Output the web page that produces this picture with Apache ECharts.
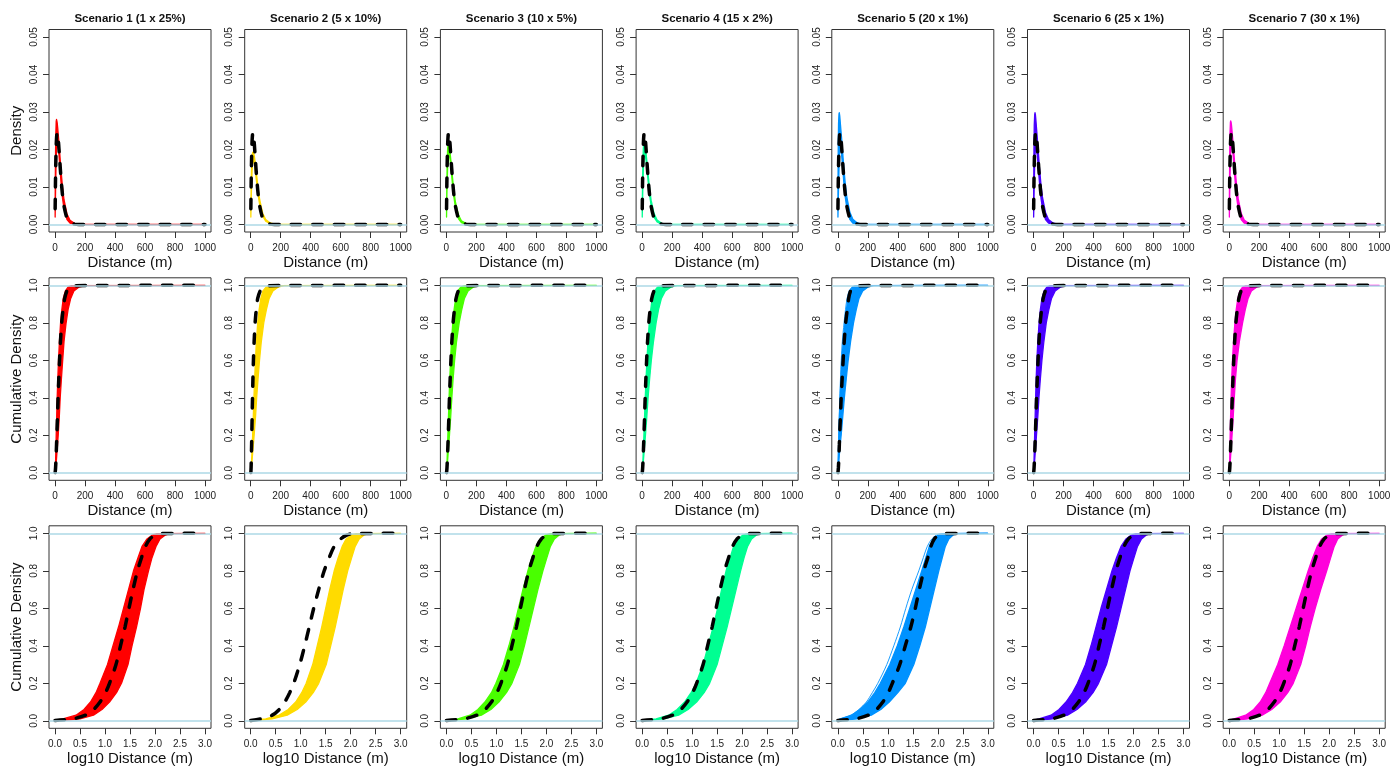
<!DOCTYPE html>
<html><head><meta charset="utf-8">
<script src="https://cdn.jsdelivr.net/npm/echarts@6/dist/echarts.min.js"></script>
<style>html,body{margin:0;padding:0;background:#fff}#c{width:1390px;height:766px}</style>
</head><body><div id="c"></div>
<script>
// ---------------- DATA ----------------
const scenarioTitles = ['Scenario 1 (1 x 25%)','Scenario 2 (5 x 10%)','Scenario 3 (10 x 5%)','Scenario 4 (15 x 2%)','Scenario 5 (20 x 1%)','Scenario 6 (25 x 1%)','Scenario 7 (30 x 1%)'];
const scenarioColors = ['#FF0000','#FFDB00','#49FF00','#00FF92','#0092FF','#4900FF','#FF00DB'];

const distTicks = [0,200,400,600,800,1000];
const logTicks = [0,0.5,1,1.5,2,2.5,3];
const densTicks = [0,0.01,0.02,0.03,0.04,0.05];
const cdfTicks = [0,0.2,0.4,0.6,0.8,1];

// Row 1: density vs distance (m)
const densX      = [1, 3, 5, 8, 10, 13, 15, 18, 20, 25, 30, 40, 50, 60, 80, 100, 130, 160, 200, 1000];
const densBlack  = [0.0042,0.0109,0.0159,0.0209,0.0228,0.0243,0.0245,0.0241,0.0234,0.0210,0.0180,0.0124,0.0079,0.0049,0.0017,0.0006,0.0001,0,0,0];
const densUpS1 = [0.006,0.017,0.0235,0.0275,0.028,0.0275,0.027,0.0258,0.0248,0.0225,0.0198,0.0145,0.0100,0.0066,0.0028,0.0011,0.0003,0.0001,0,0];
const densLoS1 = [0.002,0.007,0.012,0.018,0.020,0.0215,0.022,0.022,0.0215,0.0195,0.0167,0.0113,0.0070,0.0042,0.0013,0.0004,0.0001,0,0,0];
const densUpS2 = [0.004,0.010,0.014,0.017,0.0185,0.0192,0.0193,0.0192,0.0190,0.0180,0.0165,0.0130,0.0095,0.0066,0.0030,0.0013,0.0004,0.0001,0,0];
const densLoS2 = [0.002,0.006,0.009,0.013,0.015,0.0165,0.017,0.0172,0.0170,0.0160,0.0145,0.0110,0.0077,0.0052,0.0022,0.0009,0.0002,0,0,0];
const densUpS3 = [0.004,0.011,0.016,0.020,0.0210,0.0215,0.0215,0.0210,0.0205,0.0190,0.0170,0.0128,0.0090,0.0060,0.0026,0.0010,0.0003,0.0001,0,0];
const densLoS3 = [0.002,0.007,0.011,0.015,0.017,0.0185,0.019,0.019,0.0185,0.0172,0.0152,0.0110,0.0073,0.0046,0.0016,0.0005,0.0001,0,0,0];
const densUpS4 = [0.004,0.011,0.016,0.020,0.0213,0.0218,0.0218,0.0213,0.0208,0.0195,0.0176,0.0134,0.0096,0.0065,0.0029,0.0012,0.0003,0.0001,0,0];
const densLoS4 = [0.002,0.006,0.010,0.014,0.016,0.0178,0.0185,0.0188,0.0185,0.0175,0.0157,0.0116,0.0079,0.0051,0.0019,0.0007,0.0001,0,0,0];
const densUpS5 = [0.008,0.021,0.027,0.0295,0.0298,0.029,0.028,0.0265,0.0255,0.0232,0.0205,0.0152,0.0108,0.0074,0.0033,0.0014,0.0004,0.0001,0,0];
const densLoS5 = [0.002,0.006,0.010,0.015,0.018,0.0198,0.0203,0.0205,0.0202,0.0188,0.0165,0.0113,0.0072,0.0044,0.0014,0.0004,0.0001,0,0,0];
const densUpS6 = [0.008,0.020,0.0265,0.0293,0.0298,0.0292,0.0283,0.0268,0.0257,0.0232,0.0205,0.0150,0.0106,0.0072,0.0032,0.0013,0.0004,0.0001,0,0];
const densLoS6 = [0.002,0.006,0.011,0.016,0.0185,0.020,0.0205,0.0205,0.020,0.0185,0.0162,0.0110,0.0070,0.0042,0.0013,0.0004,0.0001,0,0,0];
const densUpS7 = [0.006,0.017,0.024,0.0272,0.0276,0.0272,0.0266,0.0253,0.0244,0.0222,0.0197,0.0145,0.0102,0.0069,0.0030,0.0012,0.0003,0.0001,0,0];
const densLoS7 = [0.002,0.007,0.012,0.017,0.0195,0.021,0.0213,0.0212,0.0207,0.0190,0.0165,0.0113,0.0071,0.0043,0.0013,0.0004,0.0001,0,0,0];

// Rows 2-3: cumulative density levels and the log10 distance (m) at which each curve reaches them
const cdfP = [0.002,0.01,0.03,0.06,0.1,0.15,0.2,0.3,0.4,0.5,0.6,0.7,0.8,0.87,0.93,0.97,0.99,0.998];
const logBlackBase = [0.00,0.35,0.61,0.77,0.90,1.01,1.09,1.22,1.31,1.40,1.48,1.56,1.65,1.73,1.81,1.90,2.00,2.10];
const logBlackS2   = [0.00,0.20,0.43,0.57,0.68,0.78,0.86,0.98,1.08,1.17,1.26,1.36,1.47,1.57,1.67,1.80,1.92,2.04];
const logBlackS5   = [0.00,0.35,0.61,0.77,0.90,1.01,1.09,1.24,1.35,1.46,1.55,1.63,1.72,1.80,1.86,1.93,2.02,2.12];
const logLeftS1  = [0.00,0.16,0.42,0.58,0.71,0.82,0.90,1.05,1.16,1.27,1.37,1.47,1.57,1.66,1.74,1.84,1.94,2.04];
const logRightS1 = [0.15,0.50,0.77,0.94,1.09,1.23,1.33,1.46,1.54,1.63,1.71,1.78,1.87,1.94,2.02,2.10,2.20,2.30];
const logLeftS2  = [0.00,0.30,0.57,0.75,0.90,1.02,1.11,1.24,1.33,1.42,1.50,1.58,1.67,1.75,1.83,1.91,2.01,2.11];
const logRightS2 = [0.10,0.43,0.73,0.93,1.10,1.25,1.36,1.51,1.60,1.69,1.77,1.85,1.94,2.02,2.09,2.17,2.26,2.35];
const logLeftS3  = [0.00,0.23,0.47,0.63,0.77,0.90,0.99,1.14,1.25,1.35,1.44,1.53,1.63,1.71,1.79,1.88,1.98,2.08];
const logRightS3 = [0.10,0.40,0.70,0.89,1.05,1.20,1.31,1.46,1.56,1.65,1.74,1.83,1.93,2.01,2.08,2.16,2.25,2.34];
const logLeftS4  = [0.00,0.28,0.53,0.70,0.85,0.98,1.08,1.22,1.32,1.42,1.51,1.59,1.68,1.76,1.83,1.92,2.01,2.11];
const logRightS4 = [0.10,0.43,0.73,0.92,1.09,1.24,1.35,1.50,1.60,1.70,1.79,1.88,1.97,2.04,2.11,2.19,2.28,2.37];
const logLeftS5  = [0.00,0.05,0.28,0.44,0.60,0.74,0.85,1.04,1.19,1.32,1.44,1.56,1.68,1.76,1.83,1.91,2.00,2.10];
const logRightS5 = [0.10,0.38,0.67,0.86,1.03,1.20,1.35,1.52,1.64,1.75,1.84,1.93,2.02,2.09,2.15,2.22,2.30,2.38];
const logOutlierS5 = [0.00,0.05,0.26,0.42,0.57,0.69,0.80,0.98,1.12,1.25,1.36,1.48,1.62,1.71,1.79,1.88,1.97,2.06];
const logLeftS6  = [0.00,0.11,0.35,0.51,0.65,0.78,0.88,1.04,1.15,1.25,1.35,1.46,1.57,1.66,1.75,1.85,1.95,2.05];
const logRightS6 = [0.10,0.38,0.68,0.87,1.04,1.19,1.30,1.46,1.56,1.66,1.75,1.84,1.93,2.01,2.08,2.16,2.25,2.34];
const logLeftS7  = [0.00,0.10,0.33,0.49,0.62,0.73,0.81,0.97,1.10,1.22,1.34,1.46,1.58,1.67,1.76,1.85,1.95,2.05];
const logRightS7 = [0.10,0.37,0.66,0.85,1.02,1.17,1.28,1.43,1.53,1.62,1.72,1.83,1.95,2.03,2.10,2.17,2.26,2.35];
const logEnd = 3.0; // curves run flat at 1.0 up to 1000 m

// ---------------- BUILD ----------------
const densUp = [densUpS1,densUpS2,densUpS3,densUpS4,densUpS5,densUpS6,densUpS7];
const densLo = [densLoS1,densLoS2,densLoS3,densLoS4,densLoS5,densLoS6,densLoS7];
const logBlack = [logBlackBase,logBlackS2,logBlackBase,logBlackBase,logBlackS5,logBlackBase,logBlackBase];
const logLeft = [logLeftS1,logLeftS2,logLeftS3,logLeftS4,logLeftS5,logLeftS6,logLeftS7];
const logRight = [logRightS1,logRightS2,logRightS3,logRightS4,logRightS5,logRightS6,logRightS7];
const logOutliers = [null,null,null,null,logOutlierS5,null,null];

const FONT = '"Liberation Sans", Arial, Helvetica, sans-serif';
const colLeft = c => 49 + c * 195.7;
const rowTop = [29.5, 277.8, 525.8];
const boxW = 162, boxH = 202.5;

const grids = [], xAxes = [], yAxes = [], series = [], graphics = [];

function toDist(v) { return Math.pow(10, v); } // row 2 is the same curves on a linear distance scale

function curveFromQuantiles(xs, transform) {
  const pts = xs.map((v, i) => [transform(v), cdfP[i]]);
  pts.push([transform(logEnd), 1]);
  return pts;
}

for (let r = 0; r < 3; r++) {
  for (let c = 0; c < 7; c++) {
    const g = r * 7 + c;
    grids.push({left: colLeft(c), top: rowTop[r], width: boxW, height: boxH, show: true,
      borderColor: '#333', borderWidth: 1, backgroundColor: 'transparent', containLabel: false, outerBoundsMode: 'none'});
    const xt = r === 2 ? logTicks : distTicks;
    xAxes.push({gridIndex: g, type: 'value', min: r === 2 ? -0.12 : -40, max: r === 2 ? 3.12 : 1040,
      axisLine: {show: false, onZero: false}, splitLine: {show: false},
      axisTick: {show: true, customValues: xt, length: 6, lineStyle: {color: '#333', width: 1}},
      axisLabel: {customValues: xt, fontSize: 10, color: '#222', fontFamily: FONT, margin: 11,
        formatter: v => r === 2 ? v.toFixed(1) : String(v)}});
    const yt = r === 0 ? densTicks : cdfTicks;
    yAxes.push({gridIndex: g, type: 'value', min: r === 0 ? -0.002 : -0.04, max: r === 0 ? 0.052 : 1.04,
      axisLine: {show: false, onZero: false}, splitLine: {show: false},
      axisTick: {show: true, customValues: yt, length: 6, lineStyle: {color: '#333', width: 1}},
      axisLabel: {customValues: yt, fontSize: 10, color: '#222', fontFamily: FONT, margin: 10, rotate: 90,
        formatter: v => r === 0 ? v.toFixed(2) : v.toFixed(1)}});

    const color = scenarioColors[c];
    let blackData, poly, outlier = null;
    if (r === 0) {
      blackData = densX.map((x, i) => [x, densBlack[i]]);
      poly = densX.map((x, i) => [x, densUp[c][i]]).concat(densX.map((x, i) => [x, densLo[c][i]]).reverse());
    } else {
      const tf = r === 1 ? toDist : (v => v);
      blackData = curveFromQuantiles(logBlack[c], tf);
      const left = curveFromQuantiles(logLeft[c], tf);
      const right = curveFromQuantiles(logRight[c], tf);
      poly = left.concat(right.slice(0, -1).reverse());
      if (logOutliers[c]) outlier = curveFromQuantiles(logOutliers[c], tf);
    }

    // light blue reference lines
    series.push({type: 'line', xAxisIndex: g, yAxisIndex: g, data: blackData, showSymbol: false, silent: true, z: 1,
      lineStyle: {opacity: 0}, animation: false,
      markLine: {silent: true, symbol: ['none', 'none'], label: {show: false}, animation: false,
        lineStyle: {color: '#ADD8E6', width: 1.5, type: 'solid'},
        data: r === 0 ? [{yAxis: 0}] : [{yAxis: 0}, {yAxis: 1}]}});
    // band of simulated curves
    series.push({type: 'custom', xAxisIndex: g, yAxisIndex: g, z: 2, silent: true, clip: true,
      data: [poly[0]],
      renderItem: (params, api) => ({
        type: 'polygon',
        shape: {points: poly.map(p => api.coord(p))},
        style: {fill: color, stroke: color, lineWidth: 1.3, lineJoin: 'round'}
      })});
    if (outlier) {
      series.push({type: 'line', xAxisIndex: g, yAxisIndex: g, data: outlier, showSymbol: false, silent: true, z: 2,
        smooth: 0.3, lineStyle: {color: color, width: 0.9}});
    }
    // theoretical curve (black dashed)
    series.push({type: 'line', xAxisIndex: g, yAxisIndex: g, data: blackData, showSymbol: false, silent: true, z: 3,
      smooth: 0.3, lineStyle: {color: '#000', width: 3.5, type: [9.5, 12], cap: 'round'}});

    // x-axis title
    graphics.push({type: 'text', x: colLeft(c) + boxW / 2, y: rowTop[r] + boxH + 30.5, silent: true,
      style: {text: r === 2 ? 'log10 Distance (m)' : 'Distance (m)', font: '15px ' + FONT, fill: '#111', align: 'center', verticalAlign: 'middle'}});
  }
}
// scenario titles
for (let c = 0; c < 7; c++) {
  graphics.push({type: 'text', x: colLeft(c) + boxW / 2, y: 19, silent: true,
    style: {text: scenarioTitles[c], font: 'bold 11.5px ' + FONT, fill: '#111', align: 'center', verticalAlign: 'middle'}});
}
// y-axis titles
const yTitles = ['Density', 'Cumulative Density', 'Cumulative Density'];
for (let r = 0; r < 3; r++) {
  graphics.push({type: 'text', x: 17, y: rowTop[r] + boxH / 2, rotation: Math.PI / 2, silent: true,
    style: {text: yTitles[r], font: '15px ' + FONT, fill: '#111', align: 'center', verticalAlign: 'middle'}});
}

const chart = echarts.init(document.getElementById('c'), null, {renderer: 'canvas', width: 1390, height: 766});
chart.setOption({
  animation: false,
  backgroundColor: '#fff',
  grid: grids, xAxis: xAxes, yAxis: yAxes, series: series,
  graphic: {elements: graphics}
});
</script></body></html>
